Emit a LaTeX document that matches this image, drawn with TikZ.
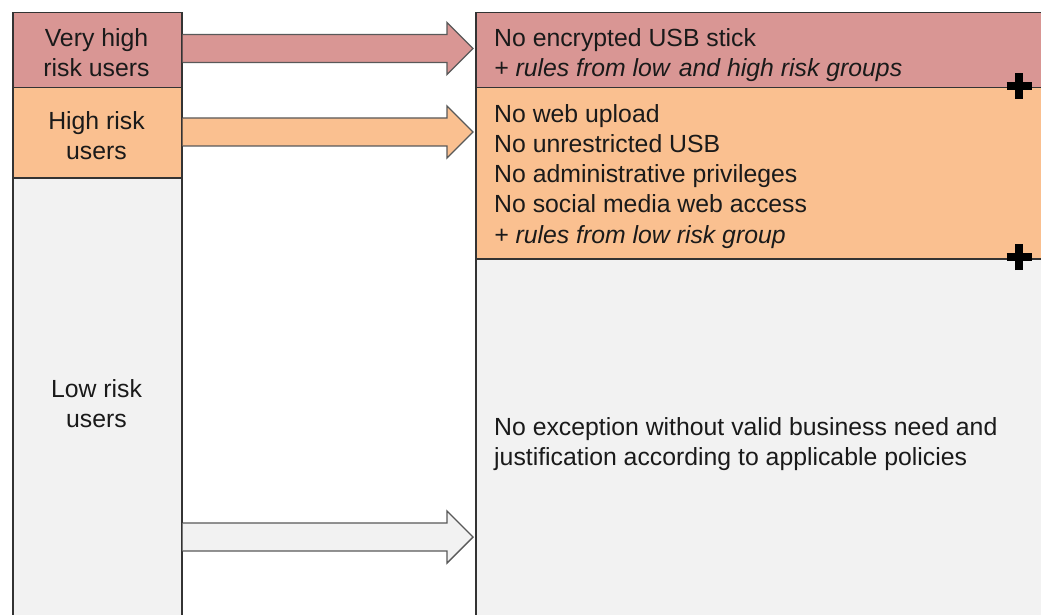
\documentclass[tikz,border=0pt]{standalone}
\usepackage{fontspec}
\setmainfont{Liberation Sans}
\usetikzlibrary{calc}
\definecolor{vhcol}{HTML}{D99694}
\definecolor{hcol}{HTML}{FAC090}
\definecolor{lcol}{HTML}{F2F2F2}
\definecolor{edgecol}{HTML}{333333}
\definecolor{arredge}{HTML}{595959}
\definecolor{txt}{HTML}{1A1A1A}
\begin{document}
\begin{tikzpicture}[x=1pt,y=-1pt,
  band/.style={draw=edgecol,line width=1.5pt,rectangle,inner sep=0pt,anchor=north west},
  lbl/.style={font=\fontsize{24.8}{30}\selectfont,text=txt,inner sep=0pt},
  blockarrow/.style={draw=arredge,line width=1.4pt,fill=#1,line join=miter,
    to path={let \p1=(\tikztostart), \p2=(\tikztotarget) in
      (\x1,\y1+14pt) -- (\x2-26pt,\y1+14pt) -- (\x2-26pt,\y1+26pt) -- (\x2,\y1)
      -- (\x2-26pt,\y1-26pt) -- (\x2-26pt,\y1-14pt) -- (\x1,\y1-14pt)}},
  plusmark/.style={line width=7.5pt,draw=black}]
\clip (0,0) rectangle (1041,615);
\fill[white] (0,0) rectangle (1041,615);
% left column
\node[band,fill=lcol,minimum width=169pt,minimum height=460pt] (ll) at (12,177) {};
\node[band,fill=hcol,minimum width=169pt,minimum height=90pt] (hl) at (12,87) {};
\node[band,fill=vhcol,minimum width=169pt,minimum height=75pt] (vhl) at (12,12) {};
% right column
\node[band,fill=lcol,minimum width=600pt,minimum height=380pt] (lr) at (475,258) {};
\node[band,fill=hcol,minimum width=600pt,minimum height=171pt] (hr) at (475,87) {};
\node[band,fill=vhcol,minimum width=600pt,minimum height=75pt] (vhr) at (475,12) {};
% labels
\node[lbl,anchor=base] (tvhl) at (96.5,47) {\begin{tabular}[t]{@{}c@{}}Very high\\risk users\end{tabular}};
\node[lbl,anchor=base] (thl) at (96.5,129) {\begin{tabular}[t]{@{}c@{}}High risk\\users\end{tabular}};
\node[lbl,anchor=base] (tll) at (96.5,397) {\begin{tabular}[t]{@{}c@{}}Low risk\\users\end{tabular}};
\node[lbl,anchor=base west] (tvhr) at (494,47) {\begin{tabular}[t]{@{}l@{}}No encrypted USB stick\\\itshape + rules from low\hspace{9pt}and high risk groups\end{tabular}};
\node[lbl,anchor=base west] (thr) at (494,123) {\begin{tabular}[t]{@{}l@{}}No web upload\\No unrestricted USB\\No administrative privileges\\No social media web access\\\itshape + rules from low risk group\end{tabular}};
\node[lbl,anchor=base west] (tlr) at (494,435) {\begin{tabular}[t]{@{}l@{}}No exception without valid business need and\\justification according to applicable policies\end{tabular}};
% block arrows
\draw[blockarrow=vhcol] (vhl.east |- 0,48.5) to ([xshift=-2pt]vhr.west |- 0,48.5);
\draw[blockarrow=hcol] (hl.east |- 0,132) to ([xshift=-2pt]hr.west |- 0,132);
\draw[blockarrow=lcol] (ll.east |- 0,537) to ([xshift=-2pt]lr.west |- 0,537);
% plus marks
\coordinate (p1) at (1019,86);
\coordinate (p2) at (1019,257);
\draw[plusmark] ([xshift=-12.5pt]p1) -- ([xshift=12.5pt]p1) ([yshift=-13pt]p1) -- ([yshift=13pt]p1);
\draw[plusmark] ([xshift=-12.5pt]p2) -- ([xshift=12.5pt]p2) ([yshift=-13pt]p2) -- ([yshift=13pt]p2);
\end{tikzpicture}
\end{document}
